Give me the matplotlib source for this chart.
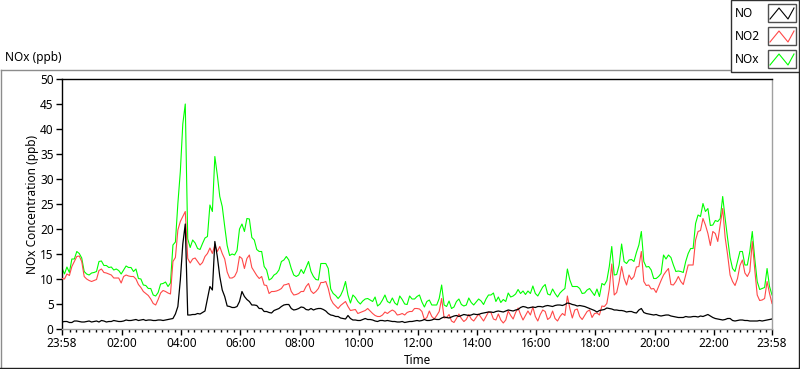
import numpy as np
import matplotlib
matplotlib.use("Agg")
import matplotlib.pyplot as plt
from matplotlib.lines import Line2D
from matplotlib.patches import Rectangle

plt.rcParams['font.family'] = ['Noto Sans', 'DejaVu Sans']

# minutes after midnight, one reading every 5 min, 23:58 -> 23:58
minutes = np.arange(289) * 5 - 2

no = [1.4, 1.5, 1.5, 1.3, 1.3, 1.6, 1.6, 1.5, 1.4, 1.4, 1.5, 1.6, 1.4, 1.5, 1.6, 1.4, 1.7, 1.6, 1.4, 1.5,
      1.5, 1.7, 1.6, 1.5, 1.5, 1.6, 1.8, 1.7, 1.7, 1.8, 1.9, 1.7, 1.8, 1.9, 1.7, 1.8, 1.8, 1.7, 1.7, 1.8,
      1.8, 1.7, 1.8, 1.9, 2.0, 2.1, 3.0, 4.5, 9.8, 17.0, 21.0, 2.8, 2.8, 2.9, 2.9, 3.1, 3.0, 3.3, 3.6, 6.1,
      8.5, 7.8, 17.5, 14.5, 10.5, 7.8, 6.5, 4.6, 4.5, 4.3, 4.3, 4.5, 5.5, 7.5, 6.5, 5.9, 5.5, 4.8, 4.8, 4.7,
      4.1, 4.1, 3.5, 3.5, 3.3, 3.2, 3.7, 3.9, 4.1, 4.5, 4.8, 4.9, 4.9, 4.1, 3.8, 3.9, 4.1, 4.4, 4.3, 3.9,
      3.8, 4.1, 3.8, 4.0, 4.1, 4.1, 3.9, 3.6, 3.1, 2.8, 2.7, 2.5, 2.5, 2.2, 2.1, 2.0, 2.7, 2.1, 1.8, 1.8,
      1.7, 1.7, 1.9, 2.1, 1.9, 1.9, 1.8, 1.6, 1.5, 1.7, 1.7, 1.6, 1.7, 1.6, 1.5, 1.5, 1.4, 1.4, 1.5, 1.3,
      1.4, 1.5, 1.5, 1.6, 1.7, 1.6, 1.7, 1.9, 1.7, 1.7, 1.8, 2.0, 1.9, 1.9, 2.2, 2.4, 2.3, 2.2, 2.4, 2.6,
      2.7, 2.5, 2.7, 2.9, 2.8, 2.7, 2.8, 3.0, 2.9, 2.9, 3.1, 3.2, 3.3, 3.4, 3.4, 3.3, 3.5, 3.6, 3.5, 3.4,
      3.6, 3.8, 3.7, 3.6, 3.8, 3.9, 4.3, 4.5, 4.4, 4.2, 4.3, 4.4, 4.3, 4.5, 4.5, 4.4, 4.6, 4.7, 4.6, 4.5,
      4.7, 4.8, 4.8, 4.7, 4.9, 5.2, 5.1, 4.9, 4.8, 4.6, 4.7, 4.6, 4.5, 4.3, 4.1, 3.9, 3.7, 3.4, 3.7, 3.8,
      3.9, 4.2, 4.1, 4.0, 3.8, 3.8, 3.7, 3.7, 3.6, 3.4, 3.5, 3.5, 3.3, 3.2, 3.8, 4.1, 3.3, 3.1, 3.0, 2.9,
      2.8, 2.9, 2.7, 2.6, 2.7, 2.8, 2.8, 2.6, 2.5, 2.4, 2.3, 2.3, 2.3, 2.5, 2.4, 2.4, 2.5, 2.5, 2.4, 2.6,
      2.5, 2.7, 2.9, 2.6, 2.3, 2.1, 2.0, 1.9, 1.8, 1.9, 2.1, 2.1, 1.7, 1.6, 1.7, 1.8, 1.8, 1.7, 1.7, 1.6,
      1.6, 1.6, 1.6, 1.7, 1.6, 1.7, 1.8, 1.9,
      2.0]

no2 = [10.1, 10.0, 11.0, 10.7, 12.5, 13.5, 14.5, 14.6, 13.5, 10.5, 10.0, 9.7, 9.5, 9.7, 9.9, 11.7, 12.0, 11.3, 11.2, 11.0,
       10.8, 10.2, 10.2, 10.2, 9.2, 10.5, 10.8, 10.6, 10.5, 10.5, 10.0, 8.9, 8.3, 7.5, 7.1, 6.7, 6.0, 5.1, 4.8, 5.9,
       7.2, 7.7, 7.5, 7.2, 7.0, 13.5, 14.3, 19.8, 21.5, 22.5, 23.5, 14.1, 13.2, 14.0, 14.2, 13.5, 12.8, 13.3, 14.5, 15.1,
       16.2, 15.1, 16.8, 15.5, 16.5, 15.1, 14.0, 11.4, 10.2, 10.2, 10.5, 11.5, 14.5, 14.1, 12.1, 14.1, 14.8, 12.3, 11.5, 10.7,
       10.1, 10.5, 8.8, 8.7, 7.1, 7.5, 7.5, 7.6, 7.8, 8.1, 8.8, 8.9, 9.1, 7.5, 6.8, 6.9, 7.1, 7.5, 7.5, 8.5,
       9.1, 7.6, 7.1, 7.5, 8.1, 9.3, 9.3, 9.5, 8.1, 6.0, 5.1, 4.6, 4.1, 4.7, 5.1, 5.5, 4.5, 3.7, 3.8, 3.9,
       3.1, 3.3, 3.5, 3.7, 4.1, 3.6, 3.1, 2.7, 2.5, 2.5, 2.8, 3.4, 3.1, 3.5, 3.8, 3.5, 2.8, 2.9, 3.1, 2.8,
       3.3, 3.5, 3.5, 4.1, 4.1, 4.0, 3.5, 1.9, 2.3, 3.6, 2.5, 2.0, 2.7, 3.5, 6.1, 2.2, 2.3, 2.9, 1.6, 1.3,
       2.1, 3.0, 2.1, 1.5, 1.9, 2.9, 2.0, 1.6, 2.3, 3.0, 2.3, 1.6, 2.5, 3.4, 3.3, 2.0, 1.8, 3.0, 1.8, 1.2,
       1.8, 3.6, 2.7, 2.0, 3.3, 4.2, 2.9, 1.8, 2.7, 3.6, 2.8, 4.4, 2.5, 1.6, 2.9, 3.8, 3.5, 1.9, 2.3, 3.6,
       2.1, 1.6, 2.5, 3.1, 2.7, 6.6, 4.1, 2.2, 3.8, 4.0, 2.5, 1.9, 2.7, 3.5, 3.8, 2.3, 3.1, 3.2, 2.8, 4.6,
       4.5, 5.1, 8.0, 13.0, 6.8, 7.3, 9.5, 12.5, 10.1, 8.8, 10.8, 9.9, 10.5, 12.4, 12.5, 15.5, 9.5, 8.7, 8.8, 8.0,
       8.1, 7.3, 8.5, 9.7, 10.8, 11.5, 12.1, 8.9, 8.8, 9.5, 10.5, 9.5, 8.9, 10.8, 12.8, 12.8, 12.8, 17.8, 19.5, 19.7,
       22.1, 20.8, 19.1, 16.7, 19.5, 19.1, 17.5, 20.9, 24.1, 18.3, 14.8, 10.8, 9.5, 8.7, 10.1, 12.7, 13.8, 11.2, 10.5, 11.5,
       17.5, 11.9, 6.8, 5.7, 5.8, 6.1, 9.5, 7.1,
       5.1]

nox = [12.2, 11.0, 12.4, 11.3, 14.0, 14.0, 15.5, 15.1, 14.2, 11.5, 11.0, 10.8, 11.2, 11.3, 11.5, 13.5, 13.6, 12.7, 12.7, 12.3,
       12.4, 11.8, 12.0, 11.7, 11.0, 11.8, 12.6, 12.3, 12.3, 11.5, 12.0, 10.1, 10.0, 8.8, 8.7, 8.1, 8.1, 6.8, 6.6, 7.3,
       9.0, 9.1, 9.4, 8.5, 9.2, 16.8, 17.4, 25.1, 31.5, 41.0, 45.0, 18.0, 16.3, 17.8, 17.2, 16.1, 15.9, 17.1, 18.2, 18.5,
       24.8, 23.5, 34.5, 30.8, 26.5, 24.5, 20.5, 16.7, 14.7, 15.0, 14.8, 15.7, 20.0, 21.0, 19.5, 22.1, 22.0, 18.3, 17.8, 15.9,
       15.5, 15.5, 12.5, 11.8, 9.8, 10.1, 10.8, 11.1, 11.8, 13.5, 13.8, 14.5, 13.8, 12.1, 10.8, 10.5, 10.8, 11.9, 11.1, 12.3,
       13.5, 11.5, 10.5, 9.9, 9.8, 13.1, 13.1, 13.1, 12.1, 8.0, 7.1, 6.7, 6.1, 6.7, 7.8, 9.5, 6.8, 5.2, 6.8, 6.3,
       5.5, 5.0, 5.6, 6.0, 6.1, 5.8, 5.5, 6.4, 4.6, 5.0, 5.8, 6.8, 5.5, 5.2, 6.2, 5.2, 4.8, 6.6, 5.9, 5.0,
       4.9, 6.6, 6.0, 6.0, 6.5, 6.8, 5.4, 4.4, 5.5, 5.8, 4.8, 4.8, 4.8, 6.1, 8.8, 4.8, 4.5, 5.6, 4.1, 4.4,
       5.5, 6.0, 4.9, 4.6, 4.8, 6.2, 5.3, 4.8, 5.4, 6.0, 5.6, 4.9, 6.0, 6.8, 6.8, 7.2, 5.5, 6.4, 5.3, 5.9,
       5.5, 7.2, 6.4, 6.6, 7.0, 7.9, 7.1, 7.6, 6.9, 7.6, 7.1, 8.6, 7.1, 6.6, 7.5, 8.4, 8.9, 7.0, 6.8, 8.0,
       7.1, 6.4, 7.2, 7.7, 8.1, 12.0, 9.8, 8.5, 8.5, 8.5, 8.1, 7.1, 7.2, 7.8, 8.1, 7.4, 6.7, 8.0, 6.5, 9.1,
       8.8, 9.7, 12.5, 16.5, 10.8, 10.9, 12.8, 17.0, 13.5, 13.1, 13.8, 13.9, 13.5, 15.3, 16.8, 19.5, 13.5, 12.4, 12.5, 11.8,
       10.1, 10.1, 10.5, 11.1, 14.8, 14.0, 14.8, 14.3, 12.8, 11.5, 11.6, 11.5, 11.3, 13.5, 15.1, 16.1, 16.1, 21.1, 22.8, 22.5,
       25.1, 23.5, 24.1, 20.7, 20.8, 21.7, 21.5, 22.1, 26.5, 22.1, 18.1, 14.3, 12.1, 11.5, 13.5, 15.5, 15.5, 12.8, 12.8, 15.5,
       19.5, 14.1, 9.5, 7.9, 8.1, 8.3, 12.1, 8.5,
       6.8]

tick_pos = [-2, 120, 240, 360, 480, 600, 720, 840, 960, 1080, 1200, 1320, 1438]
tick_labels = ['23:58', '02:00', '04:00', '06:00', '08:00', '10:00', '12:00',
               '14:00', '16:00', '18:00', '20:00', '22:00', '23:58']

W, H = 800, 369
fig = plt.figure(figsize=(W / 100, H / 100), dpi=100)
fig.patch.set_facecolor('white')


def fx(px):
    return px / W


def fy(py):
    return 1 - py / H


# outer frame of the graph panel
fig.add_artist(Line2D([fx(0.5), fx(730)], [fy(69.5), fy(69.5)], color='#8c8c8c', lw=1))
fig.add_artist(Line2D([fx(0.5), fx(0.5)], [fy(69.5), fy(368)], color='#8c8c8c', lw=1))
fig.add_artist(Line2D([fx(0), fx(800)], [fy(367.5), fy(367.5)], color='#202020', lw=1))
fig.add_artist(Line2D([fx(798.5), fx(798.5)], [fy(72), fy(368)], color='#202020', lw=1))

ax = fig.add_axes([fx(62), fy(329), fx(772) - fx(62), fy(79) - fy(329)])
ax.plot(minutes, nox, color='#00ff00', lw=0.8, zorder=2)
ax.plot(minutes, no2, color='#ff4848', lw=0.8, zorder=3)
ax.plot(minutes, no, color='black', lw=0.9, zorder=4)

ax.set_xlim(-2, 1438)
ax.set_ylim(0, 50)
ax.set_yticks(range(0, 51, 5))
ax.set_xticks(tick_pos)
ax.set_xticklabels(tick_labels)
minor = [m for m in np.arange(0, 1440, 120 / 9) if all(abs(m - p) > 3 for p in tick_pos)]
ax.set_xticks(minor, minor=True)
ax.tick_params(axis='both', which='major', labelsize=8.5, length=4, width=1,
               color='black', pad=2)
ax.tick_params(axis='x', which='minor', length=2.5, width=1, color='black')

ax.spines['top'].set_color('black')
ax.spines['left'].set_color('black')
ax.spines['bottom'].set_color('#a0a0a0')
ax.spines['right'].set_color('#a0a0a0')
for s in ax.spines.values():
    s.set_linewidth(1)

ax.set_ylabel('NOx Concentration (ppb)', fontsize=8.5, labelpad=1)
fig.text(fx(417), fy(360), 'Time', fontsize=8.5, ha='center', va='center')
fig.text(fx(5), fy(58), 'NOx (ppb)', fontsize=8.5, ha='left', va='center')

# legend box
fig.add_artist(Rectangle((fx(730.5), fy(72)), fx(798.5) - fx(730.5), fy(0) - fy(72),
                         facecolor='white', edgecolor='#303030', lw=1))
names = ['NO', 'NO2', 'NOx']
colors = ['black', '#ff4848', '#00ff00']
for i, (name, c) in enumerate(zip(names, colors)):
    top = 4 + i * 23
    fig.text(fx(735), fy(top + 9.5), name, fontsize=8.5, ha='left', va='center')
    fig.add_artist(Rectangle((fx(768), fy(top + 18)), fx(796) - fx(768), fy(top) - fy(top + 18),
                             facecolor='white', edgecolor='#505050', lw=1))
    zx = [770, 779, 788, 794]
    zy = [top + 15, top + 4, top + 15, top + 4]
    fig.add_artist(Line2D([fx(v) for v in zx], [fy(v) for v in zy], color=c, lw=0.8))

fig.savefig('out.png', dpi=100, facecolor='white')
